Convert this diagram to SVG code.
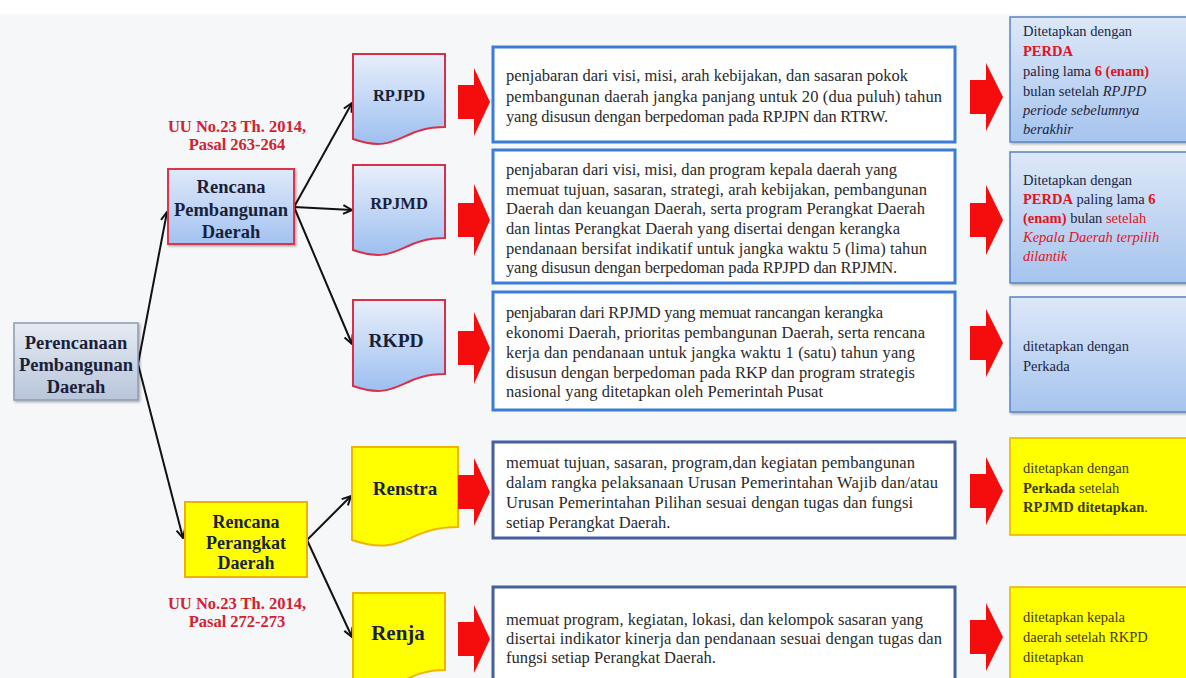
<svg xmlns="http://www.w3.org/2000/svg" width="1186" height="678" viewBox="0 0 1186 678">
<defs>
<linearGradient id="gDoc" x1="0" y1="0" x2="0" y2="1"><stop offset="0" stop-color="#e8effb"/><stop offset="1" stop-color="#9dbff0"/></linearGradient>
<linearGradient id="gNode" x1="0" y1="0" x2="0" y2="1"><stop offset="0" stop-color="#dfe9fa"/><stop offset="1" stop-color="#a3c2f0"/></linearGradient>
<linearGradient id="gRoot" x1="0" y1="0" x2="0" y2="1"><stop offset="0" stop-color="#e6ebf3"/><stop offset="1" stop-color="#b8c5da"/></linearGradient>
<linearGradient id="gRight" x1="0" y1="0" x2="0" y2="1"><stop offset="0" stop-color="#dde8f8"/><stop offset="1" stop-color="#a6c4ee"/></linearGradient>
<marker id="ah" viewBox="0 0 10 10" refX="9" refY="5" markerWidth="11" markerHeight="11" markerUnits="userSpaceOnUse" orient="auto"><path d="M1,1 L9,5 L1,9" fill="none" stroke="#111" stroke-width="1.8"/></marker>
<filter id="sh" x="-10%" y="-10%" width="130%" height="130%"><feDropShadow dx="1.5" dy="1.5" stdDeviation="1.2" flood-color="#000" flood-opacity="0.3"/></filter>
</defs>
<style>
.t{font-family:"Liberation Serif","Times New Roman",serif;fill:#2a2a2a;font-size:16.5px}
.r{font-family:"Liberation Serif","Times New Roman",serif;fill:#1c2440;font-size:14.5px}
.ry{font-family:"Liberation Serif","Times New Roman",serif;fill:#3a3a10;font-size:14.5px}
.lbl{font-family:"Liberation Serif","Times New Roman",serif;font-weight:bold;fill:#1a1f3a;text-anchor:middle}
.uu{font-family:"Liberation Serif","Times New Roman",serif;font-weight:bold;fill:#d3222f;font-size:16.5px;text-anchor:middle}
.red{fill:#e0141e;font-weight:bold}
.redn{fill:#e0141e}
.it{font-style:italic}
.b{font-weight:bold}
.box{fill:#fff;stroke:#3b7dd6;stroke-width:3}
.box2{fill:#fff;stroke:#45609c;stroke-width:3}
.doc{fill:url(#gDoc);stroke:#d9304a;stroke-width:2}
.docy{fill:#ffff00;stroke:#f0b400;stroke-width:2}
.arr{fill:#f50d0d}
.rb{fill:url(#gRight);stroke:#5a84c2;stroke-width:1.5}
.yb{fill:#ffff00;stroke:#e8b000;stroke-width:1.5}
.con line{stroke:#111;stroke-width:2;marker-end:url(#ah)}
</style>
<rect x="0" y="0" width="1186" height="678" fill="#ffffff"/>
<rect x="0" y="14" width="1186" height="664" fill="#f5f7f9"/>

<g class="con" id="connectors">
<line x1="138" y1="364" x2="167" y2="212"/>
<line x1="138" y1="364" x2="183" y2="538"/>
<line x1="294" y1="207" x2="352" y2="103"/>
<line x1="294" y1="207" x2="352" y2="210"/>
<line x1="294" y1="207" x2="352" y2="344"/>
<line x1="307" y1="540" x2="351" y2="496"/>
<line x1="307" y1="540" x2="352" y2="637"/>
</g>

<g id="root">
<rect x="14" y="323" width="124" height="77" fill="url(#gRoot)" stroke="#8e9bb0" stroke-width="1.5" filter="url(#sh)"/>
<text class="lbl" font-size="18.5" x="76" y="349">Perencanaan</text>
<text class="lbl" font-size="18.5" x="76" y="371">Pembangunan</text>
<text class="lbl" font-size="18.5" x="76" y="393">Daerah</text>
</g>

<g id="rpd">
<rect x="168" y="169" width="126" height="75" fill="url(#gNode)" stroke="#dc3548" stroke-width="2" filter="url(#sh)"/>
<text class="lbl" font-size="18.5" x="231" y="193">Rencana</text>
<text class="lbl" font-size="18.5" x="231" y="216">Pembangunan</text>
<text class="lbl" font-size="18.5" x="231" y="238">Daerah</text>
</g>

<g id="uu1">
<text class="uu" x="237" y="132">UU No.23 Th. 2014,</text>
<text class="uu" x="237" y="150">Pasal 263-264</text>
</g>

<g id="rpdaerah">
<rect x="185" y="502" width="122" height="75" fill="#ffff00" stroke="#efb100" stroke-width="2"/>
<text class="lbl" font-size="18" x="246" y="528">Rencana</text>
<text class="lbl" font-size="18" x="246" y="549">Perangkat</text>
<text class="lbl" font-size="18" x="246" y="569">Daerah</text>
</g>

<g id="uu2">
<text class="uu" x="237" y="609">UU No.23 Th. 2014,</text>
<text class="uu" x="237" y="627">Pasal 272-273</text>
</g>

<g id="rpjpd">
<path class="doc" d="M353,54 H445 V127 C399,127 399,155 353,139 Z"/>
<text class="lbl" font-size="16.5" x="399" y="101">RPJPD</text>
</g>
<g id="rpjmd">
<path class="doc" d="M353,165 H445 V238 C399,238 399,266 353,250 Z"/>
<text class="lbl" font-size="16.5" x="399" y="209">RPJMD</text>
</g>
<g id="rkpd">
<path class="doc" d="M353,300 H445 V374 C399,374 399,402 353,386 Z"/>
<text class="lbl" font-size="19.5" x="396" y="347">RKPD</text>
</g>
<g id="renstra">
<path class="docy" d="M352,447 H458 V527 C405,527 405,558 352,540 Z"/>
<text class="lbl" font-size="19" x="405" y="495">Renstra</text>
</g>
<g id="renja">
<path class="docy" d="M353,593 H445 V670 C399,670 399,700 353,683 Z"/>
<text class="lbl" font-size="21" x="398" y="640">Renja</text>
</g>

<g id="arrows-mid">
<polygon class="arr" points="458,85 474,85 474,68 490,102 474,136 474,119 458,119"/>
<polygon class="arr" points="458,203 474,203 474,184 490,220 474,256 474,237 458,237"/>
<polygon class="arr" points="458,331 474,331 474,312 490,348 474,384 474,365 458,365"/>
<polygon class="arr" points="458,475 474,475 474,458 490,492 474,526 474,509 458,509"/>
<polygon class="arr" points="458,622 474,622 474,605 490,639 474,673 474,656 458,656"/>
</g>

<g id="desc1">
<rect class="box" x="493" y="47" width="462" height="95"/>
<text class="t" x="506" y="81" textLength="402" lengthAdjust="spacing">penjabaran dari visi, misi, arah kebijakan, dan sasaran pokok</text>
<text class="t" x="506" y="102" textLength="436" lengthAdjust="spacing">pembangunan daerah jangka panjang untuk 20 (dua puluh) tahun</text>
<text class="t" x="506" y="122" textLength="382" lengthAdjust="spacing">yang disusun dengan berpedoman pada RPJPN dan RTRW.</text>
</g>
<g id="desc2">
<rect class="box" x="493" y="150" width="462" height="133"/>
<text class="t" x="506" y="175" textLength="391" lengthAdjust="spacing">penjabaran dari visi, misi, dan program kepala daerah yang</text>
<text class="t" x="506" y="194.5" textLength="421" lengthAdjust="spacing">memuat tujuan, sasaran, strategi, arah kebijakan, pembangunan</text>
<text class="t" x="506" y="214" textLength="419" lengthAdjust="spacing">Daerah dan keuangan Daerah, serta program Perangkat Daerah</text>
<text class="t" x="506" y="234" textLength="394" lengthAdjust="spacing">dan lintas Perangkat Daerah yang disertai dengan kerangka</text>
<text class="t" x="506" y="253.5" textLength="421" lengthAdjust="spacing">pendanaan bersifat indikatif untuk jangka waktu 5 (lima) tahun</text>
<text class="t" x="506" y="273" textLength="391" lengthAdjust="spacing">yang disusun dengan berpedoman pada RPJPD dan RPJMN.</text>
</g>
<g id="desc3">
<rect class="box" x="493" y="292" width="462" height="118"/>
<text class="t" x="506" y="318" textLength="377" lengthAdjust="spacing">penjabaran dari RPJMD yang memuat rancangan kerangka</text>
<text class="t" x="506" y="338" textLength="419" lengthAdjust="spacing">ekonomi Daerah, prioritas pembangunan Daerah, serta rencana</text>
<text class="t" x="506" y="358" textLength="409" lengthAdjust="spacing">kerja dan pendanaan untuk jangka waktu 1 (satu) tahun yang</text>
<text class="t" x="506" y="378" textLength="409" lengthAdjust="spacing">disusun dengan berpedoman pada RKP dan program strategis</text>
<text class="t" x="506" y="397" textLength="317" lengthAdjust="spacing">nasional yang ditetapkan oleh Pemerintah Pusat</text>
</g>
<g id="desc4">
<rect class="box2" x="493" y="442" width="462" height="96"/>
<text class="t" x="506" y="468" textLength="409" lengthAdjust="spacing">memuat tujuan, sasaran, program,dan kegiatan pembangunan</text>
<text class="t" x="506" y="488" textLength="432" lengthAdjust="spacing">dalam rangka pelaksanaan Urusan Pemerintahan Wajib dan/atau</text>
<text class="t" x="506" y="508" textLength="407" lengthAdjust="spacing">Urusan Pemerintahan Pilihan sesuai dengan tugas dan fungsi</text>
<text class="t" x="506" y="528">setiap Perangkat Daerah.</text>
</g>
<g id="desc5">
<rect class="box2" x="493" y="587" width="462" height="100"/>
<text class="t" x="506" y="625" textLength="417" lengthAdjust="spacing">memuat program, kegiatan, lokasi, dan kelompok sasaran yang</text>
<text class="t" x="506" y="644" textLength="436" lengthAdjust="spacing">disertai indikator kinerja dan pendanaan sesuai dengan tugas dan</text>
<text class="t" x="506" y="663">fungsi setiap Perangkat Daerah.</text>
</g>

<g id="arrows-right">
<polygon class="arr" points="970,80 986,80 986,63 1003,97 986,131 986,114 970,114"/>
<polygon class="arr" points="970,203 986,203 986,185 1003,220 986,255 986,237 970,237"/>
<polygon class="arr" points="970,326 986,326 986,309 1003,343 986,377 986,360 970,360"/>
<polygon class="arr" points="970,474 986,474 986,457 1003,491 986,525 986,508 970,508"/>
<polygon class="arr" points="970,620 986,620 986,603 1003,637 986,671 986,654 970,654"/>
</g>

<g id="res1">
<rect class="rb" x="1010" y="17" width="190" height="125" filter="url(#sh)"/>
<text class="r" x="1023" y="36">Ditetapkan dengan</text>
<text class="r" x="1023" y="56"><tspan class="red">PERDA</tspan></text>
<text class="r" x="1023" y="76">paling lama <tspan class="red">6 (enam)</tspan></text>
<text class="r" x="1023" y="96">bulan setelah <tspan class="it">RPJPD</tspan></text>
<text class="r it" x="1023" y="115">periode sebelumnya</text>
<text class="r it" x="1023" y="134">berakhir</text>
</g>
<g id="res2">
<rect class="rb" x="1010" y="152" width="190" height="131" filter="url(#sh)"/>
<text class="r" x="1023" y="185">Ditetapkan dengan</text>
<text class="r" x="1023" y="204"><tspan class="red">PERDA</tspan> paling lama <tspan class="red">6</tspan></text>
<text class="r" x="1023" y="223"><tspan class="red">(enam)</tspan> bulan <tspan class="redn">setelah</tspan></text>
<text class="r it" x="1023" y="242"><tspan class="redn">Kepala Daerah terpilih</tspan></text>
<text class="r it" x="1023" y="261"><tspan class="redn">dilantik</tspan></text>
</g>
<g id="res3">
<rect class="rb" x="1010" y="297" width="190" height="115" filter="url(#sh)"/>
<text class="r" x="1023" y="351">ditetapkan dengan</text>
<text class="r" x="1023" y="371">Perkada</text>
</g>
<g id="res4">
<rect class="yb" x="1010" y="438" width="190" height="97"/>
<text class="ry" x="1023" y="473">ditetapkan dengan</text>
<text class="ry" x="1023" y="493"><tspan class="b">Perkada</tspan> setelah</text>
<text class="ry" x="1023" y="512"><tspan class="b">RPJMD ditetapkan</tspan>.</text>
</g>
<g id="res5">
<rect class="yb" x="1010" y="587" width="190" height="100"/>
<text class="ry" x="1023" y="622">ditetapkan kepala</text>
<text class="ry" x="1023" y="642">daerah setelah RKPD</text>
<text class="ry" x="1023" y="662">ditetapkan</text>
</g>
</svg>
